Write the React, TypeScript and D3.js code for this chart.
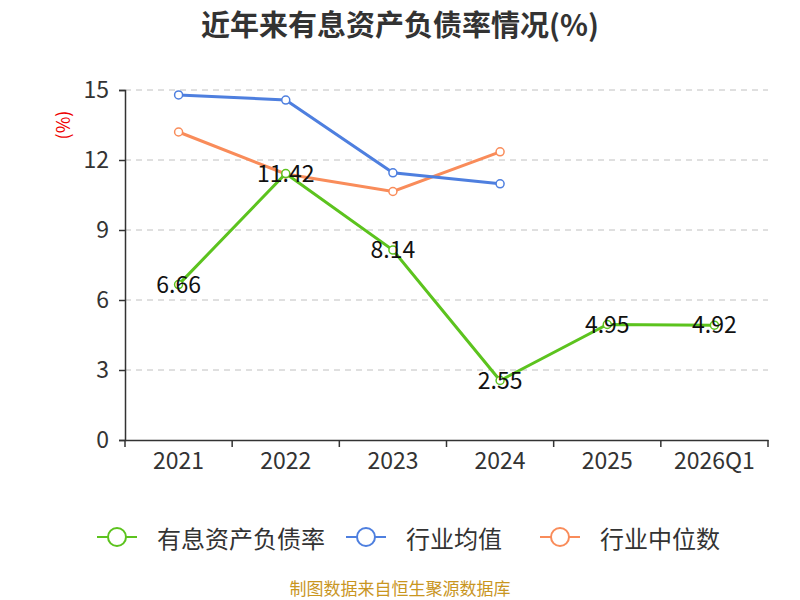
import React, { useEffect, useRef } from "react";
import * as d3 from "d3";

const categories = ["2021", "2022", "2023", "2024", "2025", "2026Q1"];
const debtRatio = [6.66, 11.42, 8.14, 2.55, 4.95, 4.92];
const industryAvg = [14.79, 14.57, 11.45, 10.98, null, null];
const industryMedian = [13.2, 11.4, 10.65, 12.35, null, null];
const yTicks = [0, 3, 6, 9, 12, 15];

const series = [
  { name: "有息资产负债率", color: "#5cc31e", values: debtRatio, labels: true },
  { name: "行业均值", color: "#4e7fdf", values: industryAvg, labels: false },
  { name: "行业中位数", color: "#f98c5a", values: industryMedian, labels: false },
];

const font = "'Noto Sans CJK SC', 'Noto Sans', sans-serif";

export default function App() {
  const ref = useRef<SVGSVGElement>(null);

  useEffect(() => {
    const svg = d3.select(ref.current);
    svg.selectAll("*").remove();

    const left = 125, right = 768, top = 90, bottom = 440;

    const x = d3.scaleBand().domain(categories).range([left, right]);
    const y = d3.scaleLinear().domain([0, 15]).range([bottom, top]);

    svg.append("text")
      .attr("x", 400).attr("y", 23)
      .attr("text-anchor", "middle").attr("dominant-baseline", "central")
      .attr("font-size", 29).attr("font-weight", "bold")
      .attr("fill", "#333").attr("font-family", font)
      .text("近年来有息资产负债率情况(%)");

    // grid
    svg.append("g").selectAll("line")
      .data(yTicks.filter((t) => t > 0))
      .join("line")
      .attr("x1", left).attr("x2", right)
      .attr("y1", (d) => y(d)).attr("y2", (d) => y(d))
      .attr("stroke", "#c0c0c0").attr("stroke-dasharray", "6,5");

    // y axis
    const yAxis = svg.append("g").attr("transform", `translate(${left},0)`)
      .call(d3.axisLeft(y).tickValues(yTicks).tickSize(6).tickPadding(10));
    yAxis.select(".domain").attr("stroke", "#333").attr("stroke-width", 1.5);
    yAxis.selectAll(".tick line").attr("stroke", "#333").attr("stroke-width", 1.5);
    yAxis.selectAll(".tick text").attr("font-size", 23).attr("fill", "#333").attr("font-family", font);

    svg.append("text")
      .attr("transform", `translate(62,${125}) rotate(-90)`)
      .attr("text-anchor", "middle").attr("dominant-baseline", "central")
      .attr("font-size", 18).attr("fill", "#e00").attr("font-family", font)
      .text("(%)");

    // x axis
    const xAxis = svg.append("g").attr("transform", `translate(0,${bottom})`)
      .call(d3.axisBottom(x).tickSize(0).tickPadding(13));
    xAxis.select(".domain").attr("stroke", "#333").attr("stroke-width", 1.5);
    xAxis.selectAll(".tick text").attr("font-size", 23).attr("fill", "#333").attr("font-family", font);
    const bounds = [...categories.map((c) => x(c)!), right];
    svg.append("g").selectAll("line").data(bounds).join("line")
      .attr("x1", (d) => d).attr("x2", (d) => d)
      .attr("y1", bottom).attr("y2", bottom + 7)
      .attr("stroke", "#333").attr("stroke-width", 1.5);

    const cx = (c: string) => x(c)! + x.bandwidth() / 2;

    // lines: draw median, avg, then main on top
    [...series].reverse().forEach((s) => {
      const pts = categories
        .map((c, i) => ({ c, v: s.values[i] }))
        .filter((p) => p.v != null) as { c: string; v: number }[];
      const line = d3.line<{ c: string; v: number }>().x((p) => cx(p.c)).y((p) => y(p.v));
      svg.append("path").datum(pts)
        .attr("d", line).attr("fill", "none")
        .attr("stroke", s.color).attr("stroke-width", 3);
      svg.append("g").selectAll("circle").data(pts).join("circle")
        .attr("cx", (p) => cx(p.c)).attr("cy", (p) => y(p.v)).attr("r", 4)
        .attr("fill", "#fff").attr("stroke", s.color).attr("stroke-width", 1.5);
      if (s.labels) {
        svg.append("g").selectAll("text").data(pts).join("text")
          .attr("x", (p) => cx(p.c)).attr("y", (p) => y(p.v) - 2)
          .attr("text-anchor", "middle").attr("dominant-baseline", "central")
          .attr("font-size", 23).attr("fill", "#111").attr("font-family", font)
          .text((p) => p.v.toFixed(2));
      }
    });

    // legend
    const legendX = [97, 346, 540];
    series.forEach((s, i) => {
      const g = svg.append("g").attr("transform", `translate(${legendX[i]},537)`);
      g.append("line").attr("x1", 0).attr("x2", 40).attr("stroke", s.color).attr("stroke-width", 2);
      g.append("circle").attr("cx", 20).attr("r", 9)
        .attr("fill", "#fff").attr("stroke", s.color).attr("stroke-width", 2);
      g.append("text").attr("x", 60).attr("dominant-baseline", "central")
        .attr("font-size", 24).attr("fill", "#333").attr("font-family", font)
        .text(s.name);
    });

    svg.append("text")
      .attr("x", 400).attr("y", 587)
      .attr("text-anchor", "middle").attr("dominant-baseline", "central")
      .attr("font-size", 17).attr("fill", "#c9961f").attr("font-family", font)
      .text("制图数据来自恒生聚源数据库");
  }, []);

  return (
    <svg ref={ref} width={800} height={600}
      style={{ position: "absolute", left: 0, top: 0, background: "#fff" }} />
  );
}
